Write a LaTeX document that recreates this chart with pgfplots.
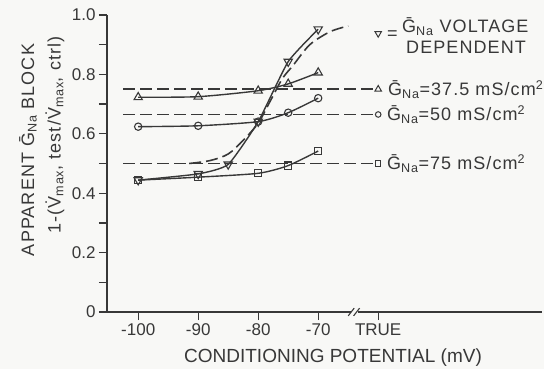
\documentclass[border=0pt]{standalone}
\usepackage{pgfplots}
\pgfplotsset{compat=1.18}
\usepackage{fontspec}
\setmainfont{Liberation Sans}
\newfontfamily\spaced[LetterSpace=6]{Liberation Sans}
\definecolor{ink}{HTML}{383838}
\definecolor{paper}{HTML}{F8F8F6}
\newcommand{\GNa}{\={G}\textsubscript{Na}}
\newcommand{\Vd}{\.{V}}
\pgfplotstableread{
x y
-100 0.444
-90 0.465
-85 0.497
-80 0.641
-75 0.843
-70 0.952
}\vdep
\pgfplotstableread{
x y
-100 0.723
-90 0.725
-80 0.745
-75 0.768
-70 0.806
}\gA
\pgfplotstableread{
x y
-100 0.624
-90 0.627
-80 0.641
-75 0.671
-70 0.720
}\gB
\pgfplotstableread{
x y
-100 0.444
-90 0.454
-80 0.467
-75 0.493
-70 0.542
}\gC
\pgfplotstableread{
x y
-91.5 0.500
-88 0.510
-85 0.532
-82.5 0.578
-80 0.636
-78 0.710
-76 0.785
-74.2 0.830
-71.4 0.900
-68 0.944
-65 0.963
}\sig
\begin{document}
\begin{tikzpicture}[font=\fontsize{16bp}{19bp}\selectfont, color=ink]
\fill[paper] (-107bp,-57bp) rectangle (437bp,312bp);
\begin{axis}[
  at={(0,0)}, anchor=south west,
  scale only axis, width=435bp, height=297bp,
  xmin=-105.2, xmax=-32.7, ymin=0, ymax=1,
  axis x line=bottom, axis y line=left,
  axis line style={-, line width=1.3pt, ink},
  every tick/.style={line width=1.3pt, ink},
  tick align=outside,
  major tick length=8bp, minor tick length=8bp,
  xtick={-100,-90,-80,-70,-60},
  xticklabels={-100,-90,-80,-70,TRUE},
  ytick={0,0.2,0.4,0.6,0.8,1.0},
  yticklabels={0,0.2,0.4,0.6,0.8,1.0},
  minor ytick={0.1,0.3,0.5,0.7,0.9},
  tick label style={font=\fontsize{17bp}{20bp}\selectfont, text=ink},
  clip=false,
  every axis plot/.append style={ink, line width=1.4pt},
]
% horizontal reference lines
\addplot[dash pattern=on 12bp off 5bp, line width=1.6pt, mark=triangle, mark size=3.8, mark indices={2}, mark options={solid, fill=paper, line width=1pt}] coordinates {(-102.5,0.75) (-60,0.75)};
\addplot[dash pattern=on 12bp off 5bp, line width=1.6pt, mark=o, mark size=2.8, mark indices={2}, mark options={solid, fill=paper, line width=1pt}] coordinates {(-102.5,0.665) (-60,0.665)};
\addplot[dash pattern=on 12bp off 5bp, line width=1.6pt, mark=square, mark size=2.8, mark indices={2}, mark options={solid, fill=paper, line width=1pt}] coordinates {(-102.5,0.5) (-60,0.5)};
% sigmoid
\addplot[dash pattern=on 12bp off 5bp, line width=1.6pt, smooth] table {\sig};
% data series
\addplot[smooth, tension=0.4, mark=square, mark size=3.6, mark options={fill=paper, line width=1.1pt}] table {\gC};
\addplot[smooth, tension=0.4, mark=o, mark size=3.7, mark options={fill=paper, line width=1.1pt}] table {\gB};
\addplot[smooth, tension=0.4, mark=triangle, mark size=4.8, mark options={fill=paper, line width=1.1pt}] table {\gA};
\addplot[smooth, tension=0.3, mark=triangle, mark size=4.8, mark options={fill=paper, line width=1.1pt, rotate=180}] table {\vdep};
% legend marker
\addplot[only marks, mark=triangle, mark size=3.8, mark options={fill=paper, line width=1pt, rotate=180}] coordinates {(-60,0.938)};
% axis break
\fill[paper] (axis cs:-64.6,-0.012) rectangle (axis cs:-63.4,0.012);
\draw[line width=1.1pt] (axis cs:-65.0,-0.013) -- (axis cs:-64.0,0.013);
\draw[line width=1.1pt] (axis cs:-64.1,-0.013) -- (axis cs:-63.1,0.013);
\end{axis}
% labels
\node[rotate=90, font=\spaced\fontsize{18bp}{21bp}\selectfont] at (-79bp,162bp) {APPARENT \GNa\ BLOCK};
\node[rotate=90, font=\spaced\fontsize{18bp}{21bp}\selectfont] at (-52bp,177bp) {1-(\Vd\textsubscript{max}, test/\Vd\textsubscript{max}, ctrl)};
\node[font=\fontsize{19bp}{22bp}\selectfont] at (226bp,-46bp) {CONDITIONING POTENTIAL (mV)};
\begin{scope}[every node/.style={inner sep=0pt, font=\spaced\fontsize{18bp}{21bp}\selectfont}]
\node[anchor=base west] at (280bp,272bp) {=};
\node[anchor=base west] at (295bp,279bp) {\GNa\ VOLTAGE};
\node[anchor=base west] at (299bp,258bp) {DEPENDENT};
\node[anchor=base west] at (281bp,216.3bp) {\GNa=37.5 mS/cm\textsuperscript{2}};
\node[anchor=base west] at (280bp,191.5bp) {\GNa=50 mS/cm\textsuperscript{2}};
\node[anchor=base west] at (280bp,142bp) {\GNa=75 mS/cm\textsuperscript{2}};
\end{scope}
\pgfresetboundingbox
\useasboundingbox (-107bp,-57bp) rectangle (437bp,312bp);
\end{tikzpicture}
\end{document}
